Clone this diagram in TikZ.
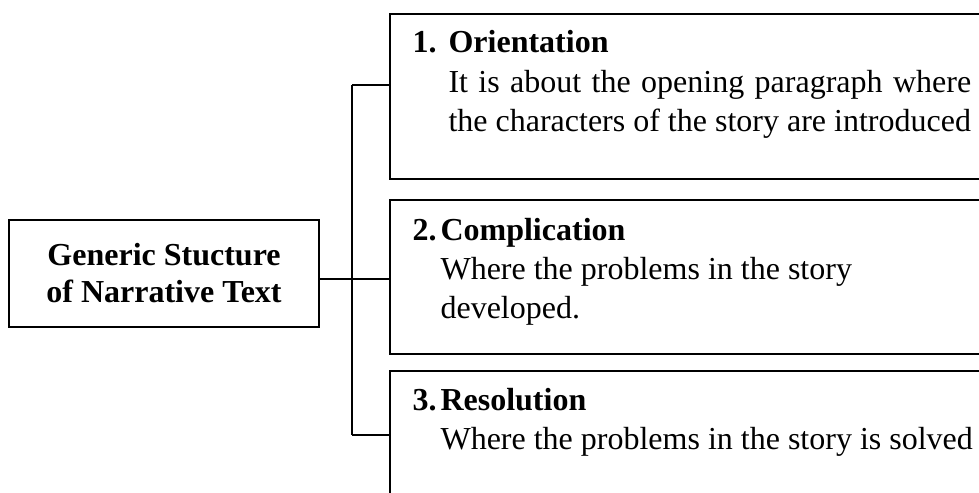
\documentclass[tikz,border=0pt]{standalone}
\usepackage{fontspec}
\setmainfont{Liberation Serif}

\tikzset{
  outline/.style={draw, line width=0.75pt, inner sep=0pt},
  itembox/.style={outline, anchor=north west, minimum width=235pt},
  itemtext/.style={anchor=base west, inner sep=0pt},
}

\begin{document}
\begin{tikzpicture}[x=0.375pt, y=-0.375pt, font=\fontsize{12}{14.8}\selectfont]
  \useasboundingbox (0,0) rectangle (979,492);
  \clip (0,0) rectangle (979,492);

  % main box on the left
  \node[outline, minimum width=116.25pt, minimum height=40.1pt, align=center, font=\fontsize{12}{13.9}\selectfont\bfseries] (gsnt) at (164,273.5) {Generic Stucture\\of Narrative Text};

  % the three parts
  \node[itembox, minimum height=62pt] (orient) at (389,12.7) {};
  \node[itembox, minimum height=57.75pt] (compl) at (389,199) {};
  \node[itembox, minimum height=60pt] (resol) at (389,370) {};

  \node[itemtext] (orienttxt) at (412,53) {\begin{tabular}[t]{@{}p{13.5pt}@{}l@{}}
    \textbf{1.} & \textbf{Orientation}\\
    & \makebox[196pt][s]{It is about the opening paragraph where}\\
    & the characters of the story are introduced
  \end{tabular}};
  \node[itemtext] (compltxt) at (412,240) {\begin{tabular}[t]{@{}p{10.5pt}@{}l@{}}
    \textbf{2.} & \textbf{Complication}\\
    & Where the problems in the story\\
    & developed.
  \end{tabular}};
  \node[itemtext] (resoltxt) at (412,410) {\begin{tabular}[t]{@{}p{10.5pt}@{}l@{}}
    \textbf{3.} & \textbf{Resolution}\\
    & Where the problems in the story is solved
  \end{tabular}};

  % connectors
  \coordinate (b1) at (352,85);
  \coordinate (b2) at (352,279);
  \coordinate (b3) at (352,435);
  \draw[line width=0.75pt] (b1) -- (b3);
  \draw[line width=0.75pt] (b1) -- (b1 -| orient.west);
  \draw[line width=0.75pt] (gsnt.east |- b2) -- (b2 -| compl.west);
  \draw[line width=0.75pt] (b3) -- (b3 -| resol.west);
\end{tikzpicture}
\end{document}
